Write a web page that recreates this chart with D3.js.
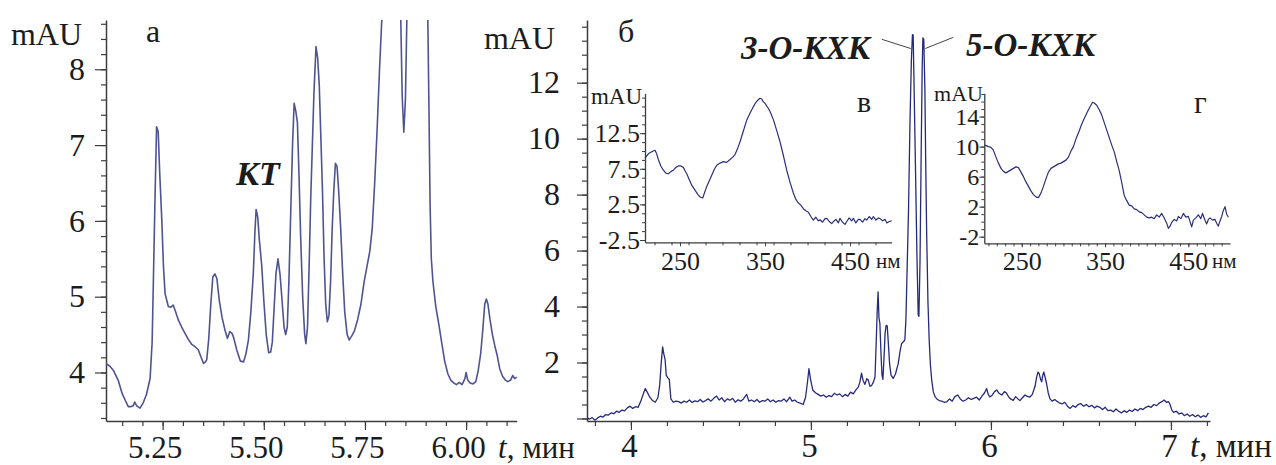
<!DOCTYPE html>
<html>
<head>
<meta charset="utf-8">
<script src="https://cdn.jsdelivr.net/npm/d3@7"></script>
<style>
  html, body { margin: 0; padding: 0; background: #fff; }
  svg { display: block; }
  text { font-family: "Liberation Serif", "Times New Roman", serif; fill: #1c1c1c; }
</style>
</head>
<body>
<svg id="chart" width="1276" height="465"></svg>
<script>
// ---- Chromatogram (а): zoomed region around catechin, t in min, signal in mAU
const aTime = [5.110,5.120,5.128,5.140,5.150,5.157,5.165,5.172,5.177,5.181,5.186,5.194,5.202,5.210,5.219,5.224,5.227,5.231,5.235,5.239,5.243,5.248,5.252,5.256,5.264,5.270,5.276,5.282,5.289,5.297,5.305,5.313,5.322,5.330,5.338,5.345,5.351,5.356,5.359,5.364,5.369,5.374,5.379,5.384,5.390,5.397,5.404,5.410,5.416,5.421,5.425,5.433,5.442,5.450,5.456,5.462,5.468,5.474,5.478,5.481,5.485,5.489,5.495,5.500,5.506,5.512,5.517,5.521,5.525,5.530,5.535,5.540,5.545,5.550,5.554,5.558,5.562,5.566,5.571,5.575,5.579,5.583,5.587,5.591,5.596,5.601,5.604,5.608,5.612,5.616,5.620,5.624,5.629,5.633,5.637,5.641,5.645,5.649,5.653,5.657,5.661,5.665,5.669,5.673,5.677,5.681,5.685,5.690,5.695,5.700,5.706,5.711,5.717,5.724,5.732,5.740,5.748,5.755,5.762,5.768,5.774,5.780,5.786,5.792,5.805,5.825,5.838,5.842,5.846,5.850,5.854,5.870,5.895,5.905,5.908,5.911,5.914,5.918,5.925,5.933,5.940,5.947,5.955,5.962,5.970,5.976,5.983,5.990,5.997,6.000,6.004,6.010,6.017,6.024,6.030,6.036,6.041,6.046,6.050,6.054,6.059,6.065,6.071,6.077,6.083,6.090,6.097,6.103,6.110,6.115,6.120,6.125];
const aSignal = [4.12,4.08,4.03,3.90,3.72,3.64,3.55,3.55,3.56,3.61,3.56,3.53,3.60,3.71,3.92,4.40,5.18,6.27,7.24,7.18,6.60,6.00,5.40,5.04,4.87,4.86,4.89,4.80,4.69,4.60,4.52,4.44,4.37,4.34,4.30,4.20,4.12,4.14,4.17,4.45,4.90,5.26,5.30,5.24,4.95,4.72,4.56,4.45,4.54,4.52,4.47,4.30,4.15,4.14,4.25,4.43,4.80,5.30,5.85,6.15,6.05,5.75,5.40,4.95,4.50,4.26,4.27,4.40,4.80,5.30,5.50,5.30,4.96,4.60,4.50,4.60,5.20,6.00,7.00,7.55,7.45,7.30,6.60,5.80,5.00,4.50,4.38,4.60,5.40,6.30,7.00,7.70,8.30,8.15,7.80,7.10,6.40,5.50,4.90,4.67,4.75,5.20,5.90,6.40,6.76,6.72,6.40,5.90,5.30,4.80,4.50,4.43,4.48,4.55,4.70,4.90,5.20,5.40,5.60,5.90,6.50,7.20,8.00,8.70,9.80,9.80,8.80,7.65,7.17,7.60,8.80,9.80,9.80,8.80,7.55,6.20,5.50,5.20,4.87,4.62,4.38,4.15,3.98,3.90,3.86,3.84,3.87,3.84,3.92,4.00,3.90,3.86,3.85,3.88,4.03,4.25,4.55,4.90,4.97,4.90,4.70,4.50,4.35,4.22,4.05,3.95,3.90,3.88,3.90,3.96,3.92,3.94];
const aTicksX = [5.25, 5.50, 5.75, 6.00];
const aTicksY = [4, 5, 6, 7, 8];

// ---- Chromatogram (б): full run, t in min, signal in mAU
const bTime = [3.756,3.770,3.785,3.800,3.815,3.830,3.845,3.860,3.875,3.890,3.905,3.920,3.935,3.950,3.965,3.980,3.995,4.010,4.025,4.040,4.055,4.070,4.080,4.090,4.105,4.120,4.135,4.150,4.160,4.168,4.176,4.183,4.190,4.196,4.205,4.213,4.222,4.235,4.250,
  4.265,4.280,4.295,4.310,4.325,4.340,4.355,4.370,4.385,4.400,4.415,4.430,4.445,4.460,4.476,4.490,4.505,4.520,4.535,4.550,4.565,4.580,4.595,4.610,4.625,4.643,4.655,4.670,4.685,4.700,4.715,4.730,4.745,4.760,4.775,4.790,4.805,4.820,4.835,4.850,4.865,4.883,4.895,4.910,4.925,4.940,4.957,
  4.970,4.980,4.989,4.998,5.010,5.025,5.040,5.055,5.070,5.085,5.100,5.115,5.130,5.145,5.160,5.175,5.190,5.205,5.220,5.235,5.250,5.263,5.272,5.281,5.290,5.300,5.310,5.318,5.328,5.337,5.347,5.356,5.362,5.368,5.373,5.378,5.383,5.390,5.395,5.400,5.407,5.412,5.418,5.424,5.430,5.437,5.445,5.457,5.470,5.485,5.495,5.504,5.515,5.522,5.528,5.535,5.542,5.550,5.558,5.564,5.568,5.574,5.582,5.589,5.596,5.600,5.606,5.612,5.618,5.622,5.627,5.633,5.638,5.643,5.650,5.657,5.664,5.671,5.680,5.690,5.700,5.712,5.726,5.740,5.754,
  5.770,5.785,5.800,5.815,5.830,5.845,5.860,5.875,5.890,5.905,5.920,5.935,5.950,5.965,5.976,5.985,5.994,6.005,6.020,6.032,6.045,6.060,6.075,6.087,6.100,6.113,6.124,6.137,6.150,6.161,6.175,6.189,6.200,6.215,6.230,6.245,6.254,6.262,6.268,6.276,6.282,6.288,6.294,6.300,6.309,6.318,6.328,6.340,6.355,6.365,6.380,6.395,6.410,6.425,6.440,6.455,6.470,6.485,6.500,6.515,6.530,6.545,6.560,6.575,6.590,6.605,6.620,6.635,6.650,6.665,6.680,6.695,6.710,6.725,6.740,6.755,6.770,6.785,6.800,6.815,6.830,6.845,6.860,6.875,6.890,6.905,6.920,6.935,6.950,6.962,6.975,6.987,6.995,7.005,7.015,7.030,7.045,7.060,7.075,7.090,7.105,7.120,7.135,7.150,7.165,7.180,7.195,7.208];
const bSignal = [0.02,-0.02,0.03,-0.06,0.02,0.08,0.05,0.14,0.12,0.20,0.17,0.26,0.22,0.30,0.27,0.38,0.44,0.36,0.42,0.40,0.62,0.90,1.07,0.95,0.76,0.64,0.58,0.74,1.20,1.95,2.56,2.30,2.10,1.55,1.45,1.40,0.70,0.58,0.62,
  0.60,0.55,0.62,0.58,0.66,0.57,0.63,0.60,0.68,0.59,0.64,0.70,0.62,0.72,0.80,0.66,0.74,0.60,0.70,0.65,0.72,0.58,0.67,0.62,0.70,0.86,0.62,0.66,0.60,0.68,0.58,0.64,0.62,0.70,0.60,0.66,0.58,0.64,0.62,0.70,0.60,0.76,0.62,0.66,0.58,0.55,0.50,
  0.75,1.25,1.78,1.40,1.02,0.92,0.86,0.80,0.84,0.76,0.82,0.78,0.90,0.84,0.88,0.78,0.86,0.80,0.94,0.88,1.02,1.12,1.30,1.62,1.35,1.22,1.42,1.38,1.15,1.18,1.30,1.48,2.60,3.80,4.52,3.60,3.40,2.20,1.55,1.40,2.30,3.05,3.33,3.30,2.70,1.95,1.55,1.43,1.60,1.96,2.40,2.68,2.75,2.82,3.60,5.50,7.40,10.5,12.8,13.72,13.70,11.5,8.5,5.8,3.70,3.65,5.6,9.2,12.5,13.6,13.55,11.8,9.0,6.6,4.2,2.8,1.9,1.37,0.95,0.77,0.70,0.64,0.62,0.58,0.59,
  0.70,0.62,0.78,0.84,0.70,0.62,0.66,0.74,0.68,0.72,0.76,0.66,0.80,0.92,1.07,0.86,0.77,0.82,0.96,1.02,0.90,0.84,0.96,0.90,0.76,0.68,0.65,0.78,0.70,0.64,0.74,0.84,0.80,0.76,0.86,1.15,1.48,1.66,1.60,1.40,1.31,1.55,1.66,1.50,1.25,0.92,0.70,0.62,0.68,0.62,0.56,0.52,0.58,0.44,0.36,0.46,0.40,0.50,0.53,0.44,0.50,0.42,0.47,0.38,0.44,0.40,0.32,0.40,0.28,0.30,0.24,0.34,0.26,0.20,0.28,0.22,0.30,0.25,0.34,0.28,0.36,0.32,0.40,0.44,0.40,0.50,0.46,0.55,0.60,0.66,0.58,0.60,0.50,0.30,0.22,0.26,0.16,0.20,0.10,0.16,0.08,0.14,0.06,0.12,0.04,0.10,0.06,0.20];
const bTicksX = [4, 5, 6, 7];
const bTicksY = [0, 2, 4, 6, 8, 10, 12];

// ---- UV spectrum (в): 3-O-caffeoylquinic acid, wavelength in nm, absorbance in mAU
const vWave = [208.8,212.7,216.7,220.6,222.5,224.5,227.4,230.4,233.3,236.3,239.2,242.2,245.1,248.0,251.0,253.9,256.0,257.9,260.8,263.8,267.6,271.5,274.0,276.7,279.0,281.4,284.3,287.3,290.2,293.2,297.1,301.0,304.9,308.8,311.8,314.7,317.6,320.6,324.5,328.4,332.3,336.2,339.1,342.1,344.1,346.1,348.0,350.0,352.0,353.9,356.8,359.8,363.7,367.6,371.5,375.5,379.4,383.3,386.3,389.2,392.1,395.1,398.0,401.0,403.9,406.8,409.8,412.7,414.7,417.6,420.6,422.6,425.5,428.5,430.4,433.4,436.3,438.2,441.2,444.1,446.1,449.0,451.9,453.9,456.8,459.8,461.8,464.7,467.6,469.6,472.5,475.5,477.5,480.4,483.3,485.3,488.2,491.2,493.2,496.1,499.0];
const vAbs = [9.0,9.6,9.9,10.1,9.6,8.8,7.9,7.3,6.9,6.8,7.1,7.3,7.7,7.9,7.9,7.7,7.2,6.8,6.0,5.2,4.5,3.8,3.5,3.4,4.2,5.0,5.8,6.6,7.4,8.0,8.3,8.5,8.4,8.8,9.1,9.5,10.3,11.3,12.8,14.3,15.3,16.2,16.8,17.2,17.4,17.3,16.9,16.7,16.3,16.0,15.3,14.4,12.9,11.3,9.4,7.3,5.6,4.1,3.2,2.7,2.4,1.9,1.6,1.4,0.8,0.3,0.7,0.2,0.35,0.0,0.5,0.55,0.1,-0.2,0.1,0.4,-0.1,0.55,0.0,-0.3,0.1,0.6,0.2,0.55,-0.1,0.4,0.4,0.0,0.5,0.3,0.8,0.4,0.8,0.3,0.6,0.5,0.2,0.4,-0.1,0.1,0.2];
const vTicksX = [250, 350, 450];
const vTicksY = [-2.5, 2.5, 7.5, 12.5];

// ---- UV spectrum (г): 5-O-caffeoylquinic acid
const gWave = [205,208,210,213,216,219,222,225,228,231,234,237,240,243,246,249,252,255,258,261,264,267,270,273,276,279,282,285,288,291,294,297,300,303,306,309,312,315,318,321,324,327,330,333,335,337,340,343,346,349,352,355,358,361,364,367,370,373,376,379,382,385,388,391,394,397,400,403,406,409,412,415,418,421,424,426,428,430,433,436,438,441,444,447,450,452,454,456,459,462,465,467,470,472,474,476,479,482,484,486,488,490,492,494,496,498];
const gAbs = [10.2,10.1,10.0,9.9,9.5,8.6,7.8,7.1,6.7,6.5,6.7,6.9,7.1,7.3,7.2,6.6,6.0,5.3,4.7,4.1,3.6,3.3,3.2,3.8,4.7,5.7,6.6,7.1,7.3,7.5,7.7,7.8,8.0,8.2,8.6,9.4,10.0,11.0,11.8,12.7,13.5,14.2,14.9,15.5,15.9,15.8,15.5,14.9,14.2,13.2,12.2,11.2,10.2,9.3,8.0,6.8,5.2,3.5,2.8,2.2,2.1,1.7,1.6,1.3,1.2,0.9,0.6,0.5,0.6,0.4,0.9,0.6,1.1,0.5,-0.2,-0.9,-0.6,-0.1,0.3,0.1,0.7,0.4,1.1,0.6,0.7,0.0,-0.7,0.2,0.5,0.9,0.4,1.1,0.2,-0.3,0.3,0.5,0.2,0.3,-0.2,-0.6,0.1,0.7,1.5,2.0,1.0,0.6];
const gTicksX = [250, 350, 450];
const gTicksY = [-2, 2, 6, 10, 14];

const svg = d3.select("#chart");
const SERIF = "\"Liberation Serif\", \"Times New Roman\", serif";
const AXIS_COLOR = "#3d3d3d";

// Draws one axis: minor ticks without labels, then major ticks with labels and the domain line.
function drawAxis(g, orient, scale, majors, minors, fmt, o) {
  const make = orient === "left" ? d3.axisLeft : d3.axisBottom;
  const minorG = g.append("g")
    .call(make(scale).tickValues(minors).tickSize(o.minor).tickSizeOuter(0).tickFormat(""));
  minorG.select(".domain").remove();
  const majorG = g.append("g")
    .call(make(scale).tickValues(majors).tickSize(o.major).tickSizeOuter(0).tickPadding(o.pad).tickFormat(fmt));
  g.selectAll("g").attr("font-family", SERIF);
  g.selectAll("line").attr("stroke", AXIS_COLOR).attr("stroke-width", o.tw || 1.2);
  majorG.select(".domain").attr("stroke", AXIS_COLOR).attr("stroke-width", o.dw || 1.5);
  const txt = majorG.selectAll("text")
    .attr("font-family", SERIF).attr("font-size", o.fs).attr("fill", "#1c1c1c");
  if (orient === "bottom") txt.attr("dy", null).attr("y", o.base).attr("dx", o.shift || 0);
  return g;
}

function plotLine(g, xs, ys, xScale, yScale, color, width, clipId) {
  const pts = xs.map((x, i) => [x, ys[i]]);
  g.append("path")
    .datum(pts)
    .attr("clip-path", clipId ? `url(#${clipId})` : null)
    .attr("fill", "none")
    .attr("stroke", color)
    .attr("stroke-width", width)
    .attr("stroke-linejoin", "round")
    .attr("d", d3.line().x(d => xScale(d[0])).y(d => yScale(d[1])));
}

function addClip(id, x0, y0, x1, y1) {
  svg.append("defs").append("clipPath").attr("id", id)
    .append("rect").attr("x", x0).attr("y", y0).attr("width", x1 - x0).attr("height", y1 - y0);
}

const plainFmt = d => String(d);

// ================= Panel а =================
const xa = d3.scaleLinear().domain([5.110, 6.125]).range([106, 516.7]);
const ya = d3.scaleLinear().domain([3.36, 8.65]).range([421, 20]);
addClip("clipA", 106, 20, 517, 421);
const gA = svg.append("g");
drawAxis(gA.append("g").attr("transform", "translate(106,0)"), "left", ya,
  aTicksY, d3.range(3.4, 8.61, 0.2), plainFmt, {major: 11, minor: 5, pad: 10, fs: 32});
drawAxis(gA.append("g").attr("transform", "translate(0,421)"), "bottom", xa,
  aTicksX, d3.range(5.15, 6.12, 0.05), d3.format(".2f"), {major: 9, minor: 5, pad: 6, fs: 31, base: 37, shift: -8});
plotLine(gA, aTime, aSignal, xa, ya, "#4e5492", 1.6, "clipA");

gA.append("text").attr("x", 82).attr("y", 45).attr("text-anchor", "end").attr("font-size", 32).text("mAU");
gA.append("text").attr("x", 146).attr("y", 42).attr("font-size", 32).text("а");
gA.append("text").attr("x", 236).attr("y", 185).attr("font-size", 34)
  .attr("font-weight", "bold").attr("font-style", "italic").text("КТ");
const ta = gA.append("text").attr("x", 498).attr("y", 458).attr("font-size", 31);
ta.append("tspan").attr("font-style", "italic").text("t");
ta.append("tspan").text(", мин");

// ================= Panel б =================
const xb = d3.scaleLinear().domain([3.756, 7.217]).range([587, 1210]);
const yb = d3.scaleLinear().domain([-0.09, 14.24]).range([421, 20]);
addClip("clipB", 587, 20, 1211, 421);
const gB = svg.append("g");
drawAxis(gB.append("g").attr("transform", "translate(587,0)"), "left", yb,
  bTicksY, d3.range(0, 14.01, 0.5), d => d === 0 ? "" : String(d), {major: 10, minor: 5, pad: 17, fs: 32});
drawAxis(gB.append("g").attr("transform", "translate(0,421)"), "bottom", xb,
  bTicksX, d3.range(3.8, 7.21, 0.2), plainFmt, {major: 9, minor: 5, pad: 6, fs: 33, base: 36, shift: -2});
plotLine(gB, bTime, bSignal, xb, yb, "#262a7c", 1.3, "clipB");

gB.append("text").attr("x", 555).attr("y", 49).attr("text-anchor", "end").attr("font-size", 32).text("mAU");
gB.append("text").attr("x", 618).attr("y", 42).attr("font-size", 32).text("б");
const tb = gB.append("text").attr("x", 1190).attr("y", 457).attr("font-size", 33);
tb.append("tspan").attr("font-style", "italic").text("t");
tb.append("tspan").text(", мин");

// peak labels with leader lines
const peakLabels = [
  {text: "3-О-КХК", t: 5.566, v0: 13.22, dx: -29, v1: 13.55, tx: 741, ty: 59, off: -2},
  {text: "5-О-КХК", t: 5.624, v0: 13.22, dx: 28, v1: 13.62, tx: 966, ty: 56, off: 2}
];
peakLabels.forEach(p => {
  const x0 = xb(p.t) + p.off;
  gB.append("line")
    .attr("x1", x0).attr("y1", yb(p.v0))
    .attr("x2", x0 + p.dx).attr("y2", yb(p.v1))
    .attr("stroke", "#444").attr("stroke-width", 1);
  gB.append("text").attr("x", p.tx).attr("y", p.ty).attr("font-size", 33)
    .attr("font-weight", "bold").attr("font-style", "italic").text(p.text);
});

// ================= Inset в =================
const xv = d3.scaleLinear().domain([208.8, 499]).range([645, 891.7]);
const yv = d3.scaleLinear().domain([-2.82, 18.1]).range([242.3, 93.3]);
const gV = svg.append("g");
drawAxis(gV.append("g").attr("transform", "translate(645,0)"), "left", yv,
  vTicksY, d3.range(-2.5, 17.6, 1.25), plainFmt, {major: 5, minor: 3, pad: 0, fs: 26, tw: 1, dw: 1.3});
drawAxis(gV.append("g").attr("transform", "translate(0,242.3)"), "bottom", xv,
  vTicksX, d3.range(220, 491, 20), plainFmt, {major: 4, minor: 3, pad: 4, fs: 26, base: 28, tw: 1, dw: 1.3});
plotLine(gV, vWave, vAbs, xv, yv, "#2c3078", 1.2);
gV.append("text").attr("x", 642).attr("y", 104).attr("text-anchor", "end").attr("font-size", 23).text("mAU");
gV.append("text").attr("x", 857).attr("y", 112).attr("font-size", 30).text("в");
gV.append("text").attr("x", 876).attr("y", 268).attr("font-size", 21).text("нм");

// ================= Inset г =================
const xg = d3.scaleLinear().domain([205, 500]).range([984.3, 1230]);
const yg = d3.scaleLinear().domain([-2.88, 17.1]).range([243.3, 93.3]);
const gG = svg.append("g");
drawAxis(gG.append("g").attr("transform", "translate(984.3,0)"), "left", yg,
  gTicksY, d3.range(-2, 17.01, 1), plainFmt, {major: 5, minor: 3, pad: 0, fs: 24, tw: 1, dw: 1.3});
drawAxis(gG.append("g").attr("transform", "translate(0,243.3)"), "bottom", xg,
  gTicksX, d3.range(210, 500, 10), plainFmt, {major: 4, minor: 3, pad: 4, fs: 26, base: 27, tw: 1, dw: 1.3});
plotLine(gG, gWave, gAbs, xg, yg, "#2c3078", 1.2);
gG.append("text").attr("x", 983).attr("y", 101).attr("text-anchor", "end").attr("font-size", 22).text("mAU");
gG.append("text").attr("x", 1194).attr("y", 113).attr("font-size", 31).text("г");
gG.append("text").attr("x", 1212).attr("y", 268).attr("font-size", 21).text("нм");
</script>
</body>
</html>
